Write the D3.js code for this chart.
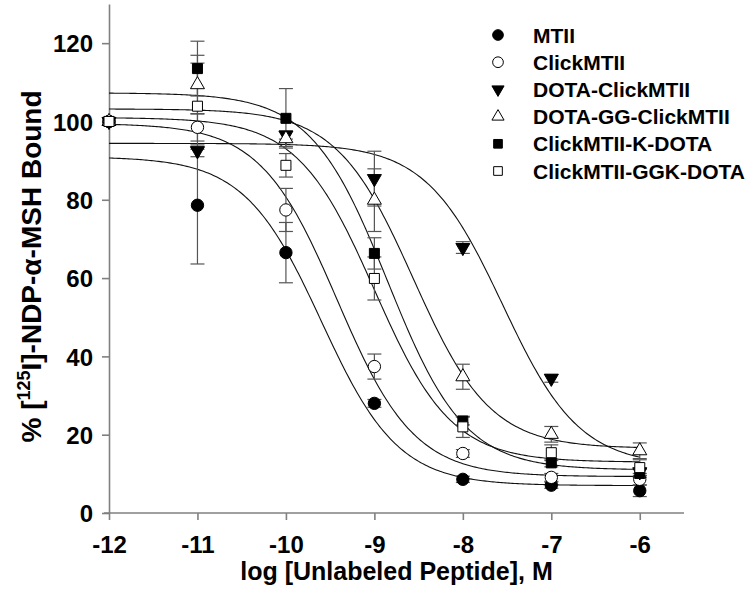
<!DOCTYPE html>
<html>
<head>
<meta charset="utf-8">
<script src="https://cdn.jsdelivr.net/npm/d3@7"></script>
<style>
  html, body { margin: 0; padding: 0; background: #fff; }
  svg { display: block; font-family: "Liberation Sans", Arial, sans-serif; }
</style>
</head>
<body>
<svg id="chart" width="750" height="608"></svg>
<script>
// ---------- data ----------
const logConc = [-12, -11, -10, -9, -8, -7, -6];
const xTicks = [-12, -11, -10, -9, -8, -7, -6];
const yTicks = [0, 20, 40, 60, 80, 100, 120];
const seriesNames = ["MTII", "ClickMTII", "DOTA-ClickMTII", "DOTA-GG-ClickMTII", "ClickMTII-K-DOTA", "ClickMTII-GGK-DOTA"];

const mtiiVals      = [100, 78.6, 66.5, 28.0, 8.6, 7.1, 5.7];
const clickVals     = [100, 98.5, 77.4, 37.4, 15.2, 9.1, 8.6];
const dotaClickVals = [100, 92.5, 96.5, 85.4, 67.8, 34.4, 10.5];
const dotaGGVals    = [100, 109.4, 95.6, 79.9, 34.8, 20.1, 15.9];
const kDotaVals     = [100, 113.5, 100.8, 66.3, 23.5, 12.8, 10.1];
const ggkDotaVals   = [100, 103.9, 88.8, 59.9, 22.0, 15.4, 11.6];

const mtiiErr      = [0, 15.0, 7.7, 1.0, 0.8, 0.8, 1.5];
const clickErr     = [0, 3.5, 5.5, 3.2, 1.0, 1.0, 1.5];
const dotaClickErr = [0, 1.5, 1.0, 7.0, 1.5, 1.0, 1.0];
const dotaGGErr    = [0, 7.5, 2.0, 8.0, 3.2, 2.0, 2.0];
const kDotaErr     = [0, 7.0, 7.6, 4.0, 1.0, 1.0, 1.0];
const ggkDotaErr   = [0, 11.0, 3.0, 5.5, 2.7, 2.0, 2.0];

// fitted one-site competition curves (top, bottom, logIC50, Hill slope)
const fitTop     = [91, 99.5, 94.4, 103.2, 107.3, 101];
const fitBottom  = [7, 9.3, 12, 16.5, 11, 13];
const fitLogIC50 = [-9.6, -9.42, -7.55, -8.56, -8.85, -9.0];
const fitHill    = [1, 1, 1, 1, 1, 1];

const seriesVals = [mtiiVals, clickVals, dotaClickVals, dotaGGVals, kDotaVals, ggkDotaVals];
const seriesErr  = [mtiiErr, clickErr, dotaClickErr, dotaGGErr, kDotaErr, ggkDotaErr];
const markerShape = ["circle", "circle", "down", "up", "square", "square"];
const markerFilled = [true, false, true, false, true, false];

// ---------- layout ----------
const svg = d3.select("#chart");
const x = d3.scaleLinear().domain([-12, -5.5]).range([109, 684]);
const y = d3.scaleLinear().domain([0, 130]).range([513, 4]);
const axisColor = "#808080";

function symbolPath(shape, scale) {
  const s = scale || 1;
  if (shape === "circle") return d3.symbol().type(d3.symbolCircle).size(120 * s)();
  if (shape === "square") return d3.symbol().type(d3.symbolSquare).size(100 * s)();
  return d3.symbol().type(d3.symbolTriangle).size(85 * s)();
}

// ---------- axes ----------
const xAxis = svg.append("g").attr("transform", `translate(0,${y(0)})`)
  .call(d3.axisBottom(x).tickValues(xTicks).tickSize(7).tickSizeOuter(0).tickPadding(16).tickFormat(d3.format("d")));
const yAxis = svg.append("g").attr("transform", `translate(${x(-12)},0)`)
  .call(d3.axisLeft(y).tickValues(yTicks).tickSize(7).tickSizeOuter(0).tickPadding(9));
[xAxis, yAxis].forEach(g => {
  g.selectAll("path, line").attr("stroke", axisColor).attr("stroke-width", 1.6);
  g.selectAll("text").attr("fill", "#000").attr("font-size", 24).attr("font-weight", "bold")
    .attr("font-family", "'Liberation Sans', Arial, sans-serif");
});
xAxis.select(".domain").attr("d", `M${x(-12) - 5},0H${x(-5.5)}`);
xAxis.selectAll("text").text(d => d < 0 ? "-" + Math.abs(d) : d);
yAxis.selectAll(".tick text").attr("dy", "0.36em");

// axis titles
svg.append("text")
  .attr("x", (x(-12) + x(-5.5)) / 2).attr("y", 580)
  .attr("text-anchor", "middle").attr("font-size", 25).attr("font-weight", "bold")
  .text("log [Unlabeled Peptide], M");

const yt = svg.append("text")
  .attr("transform", `translate(41,${(y(0) + y(130)) / 2 + 8}) rotate(-90)`)
  .attr("text-anchor", "middle").attr("font-size", 28).attr("font-weight", "bold");
yt.append("tspan").text("% [");
yt.append("tspan").attr("font-size", 18).attr("dy", -11).text("125");
yt.append("tspan").attr("dy", 11).text("I]-NDP-α-MSH Bound");

// ---------- fitted curves ----------
const curveX = d3.range(-12, -5.999, 0.02);
const line = d3.line().x(d => x(d[0])).y(d => y(d[1])).curve(d3.curveLinear);
seriesNames.forEach((name, i) => {
  const pts = curveX.map(lx => [lx, fitBottom[i] + (fitTop[i] - fitBottom[i]) / (1 + Math.pow(10, fitHill[i] * (lx - fitLogIC50[i])))]);
  svg.append("path").datum(pts).attr("d", line)
    .attr("fill", "none").attr("stroke", "#111").attr("stroke-width", 1.1);
});

// ---------- error bars ----------
seriesNames.forEach((name, i) => {
  const g = svg.append("g").attr("stroke", "#555").attr("stroke-width", 1.2);
  logConc.forEach((lx, j) => {
    const e = seriesErr[i][j];
    if (!e) return;
    const v = seriesVals[i][j];
    const cx = x(lx);
    g.append("line").attr("x1", cx).attr("x2", cx).attr("y1", y(v - e)).attr("y2", y(v + e));
    g.append("line").attr("x1", cx - 7).attr("x2", cx + 7).attr("y1", y(v + e)).attr("y2", y(v + e));
    g.append("line").attr("x1", cx - 7).attr("x2", cx + 7).attr("y1", y(v - e)).attr("y2", y(v - e));
  });
});

// ---------- markers ----------
seriesNames.forEach((name, i) => {
  const g = svg.append("g");
  logConc.forEach((lx, j) => {
    const v = seriesVals[i][j];
    const rot = markerShape[i] === "down" ? 180 : 0;
    g.append("path").attr("d", symbolPath(markerShape[i]))
      .attr("transform", `translate(${x(lx)},${y(v)}) rotate(${rot})`)
      .attr("fill", markerFilled[i] ? "#000" : "#fff")
      .attr("stroke", "#000").attr("stroke-width", 1);
  });
});

// ---------- legend ----------
const legend = svg.append("g");
seriesNames.forEach((name, i) => {
  const ly = 35 + i * 27.2;
  const rot = markerShape[i] === "down" ? 180 : 0;
  legend.append("path").attr("d", symbolPath(markerShape[i], 0.75))
    .attr("transform", `translate(498,${ly}) rotate(${rot})`)
    .attr("fill", markerFilled[i] ? "#000" : "#fff")
    .attr("stroke", "#000").attr("stroke-width", 1);
  legend.append("text").attr("x", 533).attr("y", ly + 7.5)
    .attr("font-size", 21).attr("font-weight", "bold").text(name);
});
</script>
</body>
</html>
